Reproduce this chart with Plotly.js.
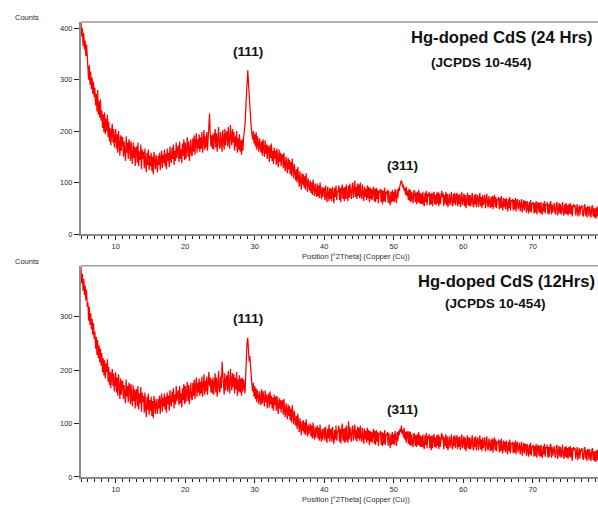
<!DOCTYPE html>
<html>
<head>
<meta charset="utf-8">
<script src="https://cdn.plot.ly/plotly-3.0.1.min.js"></script>
<style>html,body{margin:0;padding:0;background:#fff;}#chart{width:598px;height:506px;}</style>
</head>
<body>
<div id="chart"></div>
<script>
// Scan settings (2Theta, degrees)
var scanStart = 5.0;
var scanStep = 0.1;

// Hg-doped CdS (24 Hrs) counts, one row per degree starting at 5.0
var counts24h = [
412,384,400,366,390,358,376,346,368,338,
336,300,328,290,316,282,304,272,296,266,
284,250,272,238,280,232,258,226,262,220,
240,206,232,198,236,194,224,200,232,188,
218,180,206,172,200,214,178,204,168,198,
204,166,194,158,200,176,152,192,162,188,
188,150,180,160,142,190,158,178,146,184,
176,142,180,152,136,178,148,170,132,166,
170,138,178,132,160,144,174,126,164,146,
160,128,166,138,120,158,134,164,124,152,
132,158,122,150,116,160,136,126,154,130,
120,152,134,158,124,148,162,128,154,138,
164,132,156,126,166,142,158,130,170,146,
138,168,146,174,134,162,142,178,148,164,
172,140,180,146,164,138,176,152,184,144,
178,146,172,188,150,180,142,174,184,154,
152,186,160,192,154,180,196,158,184,166,
194,160,188,166,198,158,186,202,164,190,
168,198,162,192,208,234,196,170,192,166,
196,164,190,204,168,196,160,192,208,172,
166,198,176,160,202,188,164,204,172,192,
200,170,208,180,166,212,192,172,204,178,
198,162,190,170,200,158,186,164,194,160,
182,154,184,162,188,198,212,240,278,302,
318,294,268,240,220,206,194,184,200,176,
194,170,198,164,190,174,160,186,168,158,
180,152,184,160,150,182,156,174,146,172,
166,140,172,148,176,142,162,136,168,146,
162,134,166,144,130,164,140,158,132,154,
154,128,158,134,122,150,132,118,148,126,
144,116,140,112,146,120,108,136,116,104,
126,100,130,106,92,122,98,86,118,96,
116,90,112,86,118,94,82,108,88,84,
104,80,100,76,106,84,74,98,78,72,
98,74,94,70,100,78,68,92,72,88,
90,66,94,72,62,92,74,64,90,68,
88,64,92,70,60,90,72,94,66,84,
82,94,66,90,62,88,96,68,90,64,
92,68,96,74,64,94,70,98,76,68,
90,100,70,94,104,72,92,68,98,74,
96,70,100,76,68,96,78,64,92,72,
88,66,94,70,92,62,90,68,88,66,
84,92,64,88,62,90,68,86,60,84,
80,88,62,86,58,84,64,90,62,82,
78,86,60,84,66,56,82,62,86,64,
82,62,88,66,60,86,70,90,84,94,
98,104,100,90,96,84,90,76,92,74,
84,66,88,64,86,62,82,66,60,84,
84,62,80,58,82,62,86,60,80,58,
78,58,82,60,54,80,62,84,56,78,
74,82,56,78,58,80,54,76,82,58,
76,56,80,60,82,54,78,58,76,84,
72,80,54,76,60,82,56,78,52,76,
78,56,76,82,58,54,78,60,80,56,
74,80,54,76,58,78,52,74,82,56,
72,78,54,76,50,74,80,56,76,54,
76,54,74,80,56,52,76,58,78,52,
70,76,52,74,80,54,72,50,76,56,
68,76,50,72,78,56,52,74,54,50,
72,52,74,48,70,76,52,72,50,68,
66,72,48,70,50,74,54,46,70,52,
68,48,70,50,44,68,50,72,46,66,
64,68,46,66,48,70,44,64,68,48,
60,66,44,64,68,42,62,66,46,64,
62,42,64,46,40,62,44,66,42,60,
58,62,40,60,42,64,38,58,62,42,
60,40,62,42,38,60,44,64,40,58,
56,62,38,58,40,60,64,38,58,42,
54,60,42,38,58,62,36,56,60,40,
58,38,56,62,40,36,58,40,60,38,
56,36,58,40,60,38,56,34,54,58,
52,56,36,54,58,34,54,56,36,54,
50,56,38,34,54,58,36,52,32,54,
52,34,54,36,32,52,56,34,50,32,
50,30,52,34,54,32
];

// Hg-doped CdS (12Hrs) counts, one row per degree starting at 5.0
var counts12h = [
392,362,380,348,370,340,358,330,350,318,
326,292,318,284,306,276,296,266,288,258,
272,240,262,228,256,222,246,214,240,208,
232,196,222,190,218,184,212,196,220,178,
206,172,196,166,190,202,170,194,160,188,
196,158,186,152,192,168,146,184,154,178,
180,146,172,154,138,182,150,170,140,176,
170,136,174,146,132,172,142,164,128,160,
164,132,170,126,156,138,168,122,158,140,
152,120,158,130,112,150,126,156,116,144,
124,150,114,142,110,152,128,118,146,122,
118,146,128,152,118,142,156,122,148,132,
156,126,150,120,158,136,152,124,162,140,
132,160,140,166,128,154,136,170,142,156,
162,134,170,138,156,130,166,144,174,136,
170,140,164,178,142,172,136,166,176,148,
144,176,152,182,146,170,186,150,176,158,
184,152,178,156,188,150,176,192,154,180,
160,188,154,182,196,170,186,158,182,156,
186,154,180,194,158,186,150,182,198,162,
158,188,166,216,192,178,154,194,162,182,
190,160,198,170,156,202,182,162,194,168,
192,156,186,164,196,152,182,160,190,158,
184,152,186,160,182,170,156,188,226,252,
260,236,216,226,200,184,172,160,176,150,
170,146,166,140,162,150,136,160,144,134,
164,138,160,142,132,162,140,154,128,150,
156,130,160,136,152,128,148,124,154,134,
150,124,152,132,118,148,128,144,120,140,
144,116,146,124,112,138,120,108,136,114,
132,106,128,102,134,110,98,124,104,96,
114,90,118,96,84,110,88,78,104,86,
106,82,102,78,108,86,76,98,80,92,
100,76,96,72,102,80,70,94,74,90,
96,72,92,68,98,76,66,90,70,86,
92,68,94,74,64,90,72,98,66,88,
90,66,94,72,62,88,70,96,68,86,
84,96,66,90,62,88,100,68,90,64,
92,66,96,72,64,104,70,94,74,66,
90,96,68,92,98,70,88,66,94,72,
92,68,96,74,66,92,76,62,90,70,
86,64,92,68,88,60,86,66,84,64,
82,90,62,86,60,88,66,84,58,82,
80,86,60,84,58,82,62,88,60,80,
78,84,58,82,64,54,80,60,84,62,
80,60,86,64,58,84,68,86,78,90,
84,96,80,88,74,92,70,84,64,86,
82,62,86,60,84,58,80,64,56,82,
80,58,78,56,80,60,84,58,78,56,
76,56,80,58,52,78,60,82,54,76,
72,80,54,76,50,78,54,74,80,56,
74,54,78,58,80,52,76,56,74,82,
70,78,52,74,58,80,54,76,50,74,
76,54,74,80,56,52,76,58,78,54,
72,78,52,74,56,76,50,72,80,54,
70,76,52,74,48,72,78,54,74,52,
74,52,72,78,54,50,74,56,76,50,
68,74,50,72,78,52,70,48,74,54,
66,74,48,70,76,54,50,72,52,48,
70,50,72,46,68,74,50,70,48,66,
64,70,46,68,48,72,52,44,68,50,
66,46,68,48,42,66,48,70,44,64,
62,66,44,64,46,68,42,62,66,46,
58,64,42,62,66,40,60,64,44,62,
60,40,62,44,38,60,42,64,40,58,
56,60,38,58,40,62,36,56,60,40,
58,38,60,40,36,58,42,62,38,56,
54,60,36,56,38,58,62,36,56,40,
52,58,40,36,56,60,34,54,58,38,
56,36,54,60,38,34,56,38,58,36,
54,34,56,38,58,36,54,30,52,56,
50,54,34,52,56,32,52,54,34,52,
48,54,36,32,52,56,34,50,30,52,
50,32,52,34,30,50,54,32,48,30,
48,28,50,32,52,30
];

var xTicks = [10, 20, 30, 40, 50, 60, 70];
var yTicksTop = [0, 100, 200, 300, 400];
var yTicksBottom = [0, 100, 200, 300];

var titleTop = 'Hg-doped CdS (24 Hrs)';
var titleBottom = 'Hg-doped CdS (12Hrs)';
var refCard = '(JCPDS 10-454)';
var peakLabels = ['(111)', '(311)'];
var yLabel = 'Counts';
var xLabel = 'Position [°2Theta] (Copper (Cu))';

function angles(n) {
  var a = [];
  for (var i = 0; i < n; i++) a.push(+(scanStart + i * scanStep).toFixed(2));
  return a;
}

var lineStyle = {color: '#ff0000', width: 1.25};
var traces = [
  {x: angles(counts24h.length), y: counts24h, type: 'scatter', mode: 'lines', line: lineStyle, xaxis: 'x', yaxis: 'y', hoverinfo: 'skip'},
  {x: angles(counts12h.length), y: counts12h, type: 'scatter', mode: 'lines', line: lineStyle, xaxis: 'x2', yaxis: 'y2', hoverinfo: 'skip'}
];

var tickFont = {family: 'Liberation Sans, Arial, sans-serif', size: 7.5, color: '#1e2a40'};
function xAxis(anchor) {
  return {
    anchor: anchor, range: [5, 79.4], tickmode: 'array', tickvals: xTicks,
    ticks: 'outside', ticklen: 4, tickwidth: 1, tickcolor: '#222',
    minor: {dtick: 1, tick0: 0, ticks: 'outside', ticklen: 2.5, tickwidth: 1, tickcolor: '#222'},
    showline: true, linecolor: '#8a8a8a', linewidth: 2,
    showgrid: false, zeroline: false, tickfont: tickFont, fixedrange: true
  };
}
function yAxis(anchor, domain, range, vals) {
  return {
    anchor: anchor, domain: domain, range: range, tickmode: 'array', tickvals: vals,
    ticks: 'outside', ticklen: 5, tickwidth: 1, tickcolor: '#222',
    showline: true, linecolor: '#8a8a8a', linewidth: 2,
    showgrid: false, zeroline: false, tickfont: tickFont, fixedrange: true
  };
}

var boldFont = function (s) { return {family: 'Liberation Sans, Arial, sans-serif', size: s, color: '#111'}; };
var smallFont = {family: 'Liberation Sans, Arial, sans-serif', size: 7.5, color: '#1e2a40'};

function ann(xr, yr, x, y, text, font) {
  return {xref: xr, yref: yr, x: x, y: y, text: text, showarrow: false, font: font, xanchor: 'center', yanchor: 'middle'};
}

var annotations = [
  ann('x', 'y', 65.6, 382, '<b>' + titleTop + '</b>', boldFont(16.6)),
  ann('x', 'y', 62.7, 334, '<b>' + refCard + '</b>', boldFont(13.6)),
  ann('x', 'y', 29.0, 354, '<b>' + peakLabels[0] + '</b>', boldFont(13.6)),
  ann('x', 'y', 51.3, 134, '<b>' + peakLabels[1] + '</b>', boldFont(13.6)),
  ann('x2', 'y2', 66.2, 366, '<b>' + titleBottom + '</b>', boldFont(16.6)),
  ann('x2', 'y2', 64.6, 325, '<b>' + refCard + '</b>', boldFont(13.6)),
  ann('x2', 'y2', 29.0, 297, '<b>' + peakLabels[0] + '</b>', boldFont(13.6)),
  ann('x2', 'y2', 51.2, 126, '<b>' + peakLabels[1] + '</b>', boldFont(13.6)),
  ann('paper', 'paper', -0.1044, 1.0103, yLabel, smallFont),
  ann('paper', 'paper', -0.1044, 0.4732, yLabel, smallFont),
  ann('paper', 'paper', 0.532, 0.4842, xLabel, smallFont),
  ann('paper', 'paper', 0.532, -0.0505, xLabel, smallFont)
];

var shapes = [
  {type: 'line', xref: 'paper', yref: 'paper', x0: 0, x1: 1, y0: 1, y1: 1, line: {color: '#9a9a9a', width: 1.5}},
  {type: 'line', xref: 'paper', yref: 'paper', x0: 0, x1: 1, y0: 0.4644, y1: 0.4644, line: {color: '#9a9a9a', width: 1.5}}
];

var layout = {
  width: 598, height: 506,
  margin: {l: 81, r: 0, t: 22, b: 29, pad: 0},
  paper_bgcolor: '#ffffff', plot_bgcolor: '#ffffff',
  showlegend: false,
  xaxis: xAxis('y'),
  yaxis: yAxis('x', [0.534, 1], [0, 412], yTicksTop),
  xaxis2: xAxis('y2'),
  yaxis2: yAxis('x2', [0, 0.4644], [0, 395], yTicksBottom),
  annotations: annotations,
  shapes: shapes
};

Plotly.newPlot('chart', traces, layout, {displayModeBar: false, staticPlot: true});
</script>
</body>
</html>
